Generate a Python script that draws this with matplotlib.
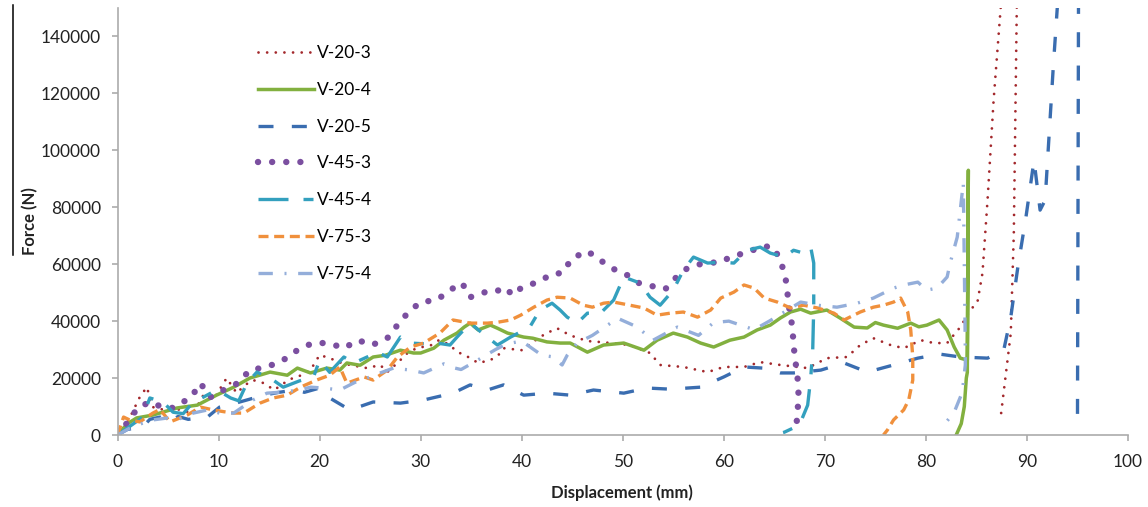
import matplotlib
matplotlib.use("Agg")
import matplotlib.pyplot as plt
from matplotlib.lines import Line2D
import numpy as np

plt.rcParams["font.family"] = ["Lato", "DejaVu Sans"]

# --- data ---
v20_3_x = [0, 1.0, 2.2, 2.9, 3.5, 4.3, 5.5, 6.5, 7.5, 8.5, 9.5, 10.8, 11.8, 12.6, 13.4, 14.5,
           15.5, 17.0, 18.2, 19.1, 20.0, 21.0, 22.0, 23.0, 24.7, 26.0, 26.7, 27.7, 28.7, 29.6,
           31.0, 31.8, 32.7, 33.7, 34.7, 35.7, 36.9, 37.7, 38.2, 40.0, 41.8, 42.5, 43.5, 44.8,
           46.5, 48.0, 50.7, 52.7, 53.7, 56.0, 58.4, 60.0, 62.0, 63.6, 65.6, 68.3, 70.2, 72.2,
           73.5, 74.8, 76.5, 77.8, 79.5, 80.8, 82.1, 83.4, 84.4, 85.1, 85.6, 86.1, 86.7, 87.4,
           87.8, 88.4, 89.0, 88.7, 88.4, 87.4]
v20_3_y = [0, 4500, 13300, 16800, 9800, 9000, 9500, 8500, 7700, 14000, 12500, 20000, 14700, 17500,
           19300, 18200, 15800, 19500, 21000, 22800, 28100, 27000, 25500, 24600, 23500, 24600,
           22100, 25300, 28800, 30500, 31500, 33300, 32000, 29100, 27400, 25300, 26300, 28100,
           30500, 29800, 34400, 35800, 37500, 35000, 33000, 32600, 31600, 28800, 24600, 23900,
           22100, 23900, 23900, 25600, 24600, 23500, 27000, 27400, 31600, 34000, 31600, 30500,
           33300, 32300, 32300, 37900, 43900, 46700, 56900, 82500, 117600, 150000, 165000,
           170000, 152000, 70900, 35800, 6300]

v20_4_x = [0, 1.0, 1.9, 3.5, 5.9, 7.9, 9.8, 11.5, 13.1, 15.1, 16.8, 17.8, 19.1, 20.7, 22.0, 22.7,
           24.0, 25.3, 26.5, 28.0, 29.3, 30.0, 31.3, 32.3, 33.6, 34.3, 34.9, 35.7, 36.9, 37.6,
           38.6, 40.2, 41.1, 42.5, 43.8, 44.8, 46.5, 48.1, 50.1, 52.1, 53.4, 55.0, 56.4, 57.7,
           59.0, 60.6, 62.0, 63.3, 64.6, 65.6, 66.6, 67.6, 68.6, 70.2, 71.5, 72.9, 74.2, 75.0,
           75.8, 77.2, 78.5, 79.3, 80.1, 81.3, 82.1, 82.8, 83.4, 84.1, 84.2, 84.1, 84.0, 83.8,
           83.5, 83.0]
v20_4_y = [0, 4000, 6000, 7000, 9500, 10500, 14000, 16800, 20000, 22100, 21000, 23500, 21800,
           23500, 22800, 25300, 24500, 27400, 28000, 29800, 28800, 28800, 30500, 33300, 35800,
           37900, 39300, 36900, 38600, 37500, 35800, 34400, 34000, 32700, 32300, 32300, 29100,
           31600, 32300, 29800, 33300, 35800, 34400, 32300, 30900, 33300, 34400, 36900, 38600,
           41100, 43200, 44200, 42800, 43900, 41100, 37900, 37600, 39500, 38600, 37500, 39300,
           38000, 38600, 40400, 36900, 30900, 27000, 26300, 93000, 22000, 20000, 10000, 4000, 0]

v20_5_x = [0, 1.0, 2.5, 3.2, 4.2, 5.0, 6.0, 7.0, 8.9, 10.1, 11.5, 13.0, 14.5, 16.0, 17.5, 18.5,
           20.0, 21.0, 23.0, 25.3, 28.0, 30.3, 33.2, 34.9, 36.6, 38.2, 40.2, 42.5, 44.8, 47.1,
           50.1, 52.4, 54.7, 57.7, 60.0, 62.0, 63.9, 65.6, 66.9, 69.6, 71.9, 74.2, 76.8, 79.2,
           81.4, 83.4, 86.1, 87.7, 88.4, 89.1, 89.9, 90.7, 91.3, 91.8, 92.1, 92.6, 93.0, 94.0,
           95.1, 95.0]
v20_5_y = [0, 2000, 2800, 5500, 6300, 4500, 6500, 5500, 6300, 9800, 11000, 12500, 14000, 15000,
           15800, 15000, 16500, 13000, 8800, 11600, 11200, 12300, 14700, 17600, 15800, 17600,
           14000, 14700, 14000, 15800, 14700, 16500, 16100, 16800, 20400, 23900, 23500, 21800,
           21800, 22800, 25300, 22100, 24600, 27000, 28400, 27400, 27000, 29800, 41400, 59000,
           76500, 96500, 79000, 82500, 100000, 129000, 150000, 175000, 150000, 4200]

v45_3_x = [0, 1.0, 2.0, 3.2, 4.3, 5.5, 7.3, 8.2, 9.2, 10.5, 11.9, 13.1, 14.8, 16.4, 17.8, 19.3,
           20.9, 22.4, 23.8, 25.2, 26.7, 27.7, 28.8, 30.0, 31.6, 32.9, 34.1, 34.9, 36.4, 37.4,
           38.2, 39.2, 40.0, 41.0, 42.0, 42.9, 44.0, 45.0, 46.5, 47.9, 49.1, 50.3, 51.6, 52.9,
           54.2, 55.4, 56.4, 58.0, 59.7, 60.8, 62.1, 63.9, 64.9, 65.6, 66.1, 66.3, 66.5, 66.8,
           66.9, 67.1, 67.3, 67.4, 67.3, 67.2]
v45_3_y = [0, 4500, 9500, 11600, 10000, 9500, 13300, 18200, 13300, 15800, 18200, 22800, 23900,
           26300, 29800, 32300, 32300, 30500, 33300, 31600, 34000, 38600, 43200, 46700, 47400,
           50900, 53400, 48400, 50200, 50200, 51900, 49100, 51900, 53000, 54400, 56500, 56900,
           62100, 64600, 61100, 58300, 56500, 53400, 52300, 51200, 55800, 58600, 60400, 60700,
           62800, 63900, 66300, 66000, 61400, 55500, 49800, 43900, 37600, 31600, 25600, 20000,
           14000, 8100, 4000]

v45_4_x = [0, 1.2, 2.5, 3.2, 4.5, 5.5, 6.5, 7.5, 8.5, 9.8, 10.5, 11.2, 12.0, 12.8, 13.8, 15.4,
           16.4, 18.0, 19.4, 20.0, 21.0, 22.4, 23.4, 24.7, 25.7, 26.7, 28.0, 29.0, 30.5, 31.6,
           32.9, 33.6, 34.9, 36.1, 37.6, 38.9, 40.8, 41.8, 43.0, 43.8, 44.5, 45.5, 46.5, 47.8,
           49.1, 50.1, 51.7, 52.7, 53.7, 55.0, 56.0, 57.0, 58.4, 59.7, 61.0, 62.3, 63.6, 64.6,
           66.0, 66.9, 67.8, 68.6, 68.9, 68.9, 68.8, 68.6, 68.3, 67.6, 66.9, 66.0, 65.0]
v45_4_y = [0, 3000, 6300, 13000, 11600, 8000, 7500, 11600, 13300, 15800, 14500, 13000, 12000,
           18200, 22100, 19300, 16800, 19000, 20400, 26300, 22000, 27400, 25300, 27400, 29100,
           27400, 34400, 32300, 32000, 32300, 31600, 34400, 39300, 35800, 31600, 34400, 37900,
           43900, 46300, 43900, 41400, 39300, 42800, 42800, 47400, 55500, 53400, 48400, 45600,
           50900, 57900, 62500, 60400, 60700, 60400, 64900, 66000, 63900, 62500, 64900, 64000,
           66000, 60400, 45000, 30000, 20000, 10500, 4500, 2500, 1000, 0]

v75_3_x = [0, 0.6, 1.2, 2.2, 3.5, 4.2, 5.2, 6.9, 8.2, 9.5, 10.5, 11.5, 12.5, 14.1, 15.4, 16.8,
           18.1, 19.7, 21.0, 22.0, 22.7, 24.4, 25.3, 26.7, 27.7, 29.0, 30.3, 31.9, 33.2, 34.9,
           36.6, 37.6, 38.9, 39.9, 41.2, 42.5, 43.5, 44.8, 46.1, 47.0, 48.1, 49.1, 50.7, 52.1,
           53.4, 54.7, 56.0, 57.4, 58.7, 59.7, 61.0, 62.0, 63.0, 64.0, 65.3, 66.6, 67.9, 69.3,
           70.9, 71.9, 73.5, 74.8, 75.8, 76.8, 77.5, 78.2, 78.5, 78.7, 78.7, 78.3, 77.8, 76.8,
           76.2, 75.8]
v75_3_y = [0, 6300, 5300, 4600, 7700, 9000, 4600, 7000, 9800, 8800, 8200, 7700, 7700, 11200,
           13000, 14000, 16800, 19300, 21000, 23900, 18200, 20400, 19300, 22800, 27400, 30900,
           32300, 35800, 40400, 39300, 39300, 39600, 40400, 42100, 44900, 47400, 48400, 48100,
           45600, 44900, 46300, 46700, 45600, 44600, 42100, 42800, 43200, 41400, 43900, 48100,
           50200, 52700, 51600, 48100, 46700, 44600, 45600, 44600, 42800, 40400, 43200, 44900,
           45600, 46700, 48100, 43200, 36900, 27400, 19300, 12300, 8800, 5300, 1800, 0]

v75_4_x = [0, 1.5, 3.5, 5.0, 6.0, 7.5, 8.9, 10.1, 11.5, 13.4, 14.8, 16.4, 18.0, 19.1, 20.4, 22.0,
           23.5, 24.7, 26.0, 27.3, 29.0, 30.3, 32.3, 33.4, 34.0, 35.5, 37.4, 38.5, 40.0, 41.2,
           42.0, 43.0, 44.0, 44.5, 45.5, 47.0, 49.5, 51.4, 53.0, 55.4, 57.5, 59.0, 60.5, 63.0,
           64.5, 65.9, 67.6, 69.5, 71.2, 73.2, 74.8, 76.8, 77.8, 79.2, 80.1, 81.1, 82.1, 82.4,
           83.1, 83.7, 83.8, 83.9, 83.9, 83.6, 82.8, 82.0, 81.4]
v75_4_y = [0, 3000, 5300, 6000, 5500, 7700, 8800, 7700, 7700, 12300, 14700, 15100, 15800, 16800,
           16500, 15800, 18500, 20000, 21800, 23500, 22800, 21800, 25000, 23500, 23000, 26000,
           30000, 32000, 33000, 30000, 28000, 27500, 24600, 28000, 32300, 35000, 41000, 38000,
           33300, 37900, 35000, 39500, 40000, 37000, 40000, 43000, 46700, 45500, 44900, 46300,
           48100, 51600, 52700, 53700, 50900, 51600, 55500, 60400, 69500, 88500, 60000, 30000,
           24600, 15000, 8000, 4500, 2800]

labels = ["V-20-3", "V-20-4", "V-20-5", "V-45-3", "V-45-4", "V-75-3", "V-75-4"]
xs = [v20_3_x, v20_4_x, v20_5_x, v45_3_x, v45_4_x, v75_3_x, v75_4_x]
ys = [v20_3_y, v20_4_y, v20_5_y, v45_3_y, v45_4_y, v75_3_y, v75_4_y]

# --- styles ---
styles = [
    dict(color="#A3282C", lw=2.0, ls=(0, (0.01, 3.1)), dash_capstyle="round"),
    dict(color="#82B03F", lw=2.5, ls="-"),
    dict(color="#3A6DB0", lw=2.4, ls=(0, (4.5, 5.5))),
    dict(color="#7B4FA0", lw=4.6, ls=(0, (0.01, 2.2)), dash_capstyle="round"),
    dict(color="#33A0BE", lw=2.4, ls=(0, (9, 4.5, 3, 4.5))),
    dict(color="#F0903C", lw=2.4, ls=(0, (3, 1.7))),
    dict(color="#94AEDA", lw=2.4, ls=(0, (4.3, 3.5, 0.6, 3.5))),
]

GRAY = "#ABABAB"

fig = plt.figure(figsize=(11.48, 5.07), dpi=100)
ax = fig.add_axes([117.5 / 1148, 1 - 435 / 507, (1128 - 117.5) / 1148, 427 / 507])

for x, y, lab, st in zip(xs, ys, labels, styles):
    ax.plot(x, y, label=lab, solid_joinstyle="round", **st)

ax.set_xlim(0, 100)
ax.set_ylim(0, 150000)
ax.set_xticks(np.arange(0, 101, 10))
ax.set_yticks(np.arange(0, 140001, 20000))

for side in ("top", "right"):
    ax.spines[side].set_visible(False)
for side in ("left", "bottom"):
    ax.spines[side].set_color(GRAY)
    ax.spines[side].set_linewidth(1.2)

ax.tick_params(axis="both", direction="out", length=4, width=1.2, color=GRAY,
               labelsize=12.5, labelcolor="#222222")
ax.tick_params(axis="x", pad=10)
ax.tick_params(axis="y", pad=8)

fig.text(622 / 1148, 1 - 493 / 507, "Displacement (mm)", ha="center", va="center",
         fontsize=12, fontweight="bold", color="#222222")
fig.text(30 / 1148, 1 - 221 / 507, "Force (N)", ha="center", va="center", rotation=90,
         fontsize=12, fontweight="bold", color="#222222")

# thin black edge line seen at the left of the picture
fig.add_artist(Line2D([13 / 1148, 13 / 1148], [1 - 5 / 507, 1 - 255 / 507],
                      transform=fig.transFigure, color="black", lw=1.1))

ax.legend(loc="upper left", bbox_to_anchor=((258 - 117.5) / 1010.5, (435 - 45) / 427),
          frameon=False, fontsize=12.5, handlelength=3.2, handletextpad=0.2,
          labelspacing=1.2, borderpad=0, borderaxespad=0)

fig.savefig("out.png", dpi=100)
